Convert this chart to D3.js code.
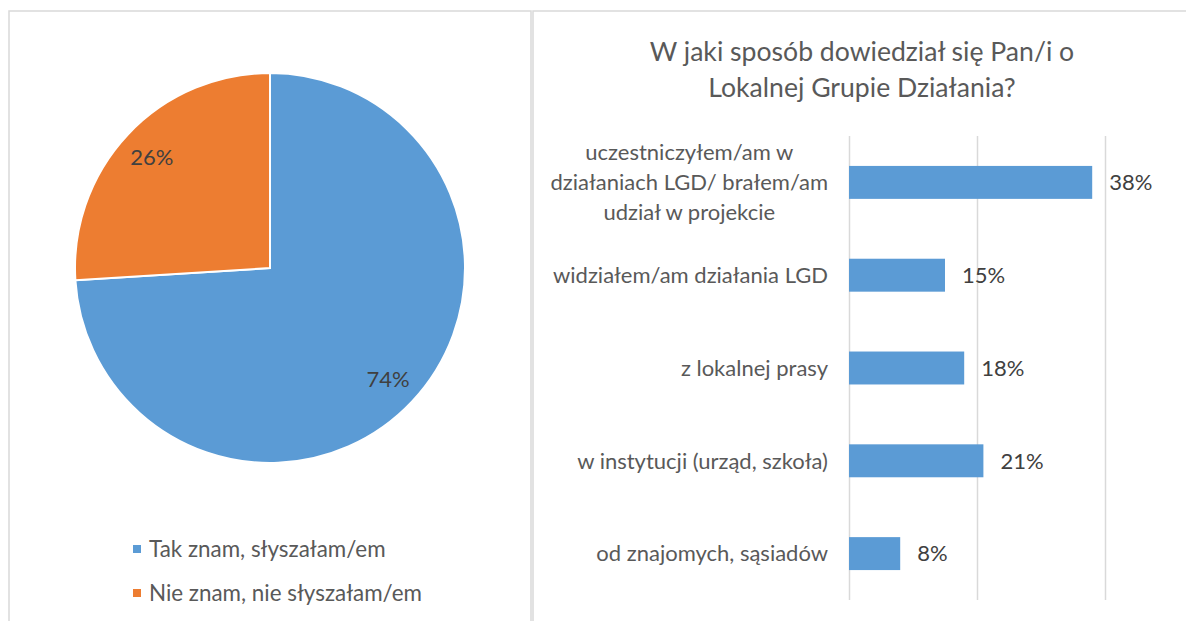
<!DOCTYPE html>
<head>
<meta charset="utf-8">
<style>
body { margin: 0; background: #fff; }
text { font-family: Lato, "Open Sans", sans-serif; }
.grid line { stroke: #d9d9d9; stroke-width: 1.5px; }
</style>
</head>
<body>
<script src="https://d3js.org/d3.v7.min.js"></script>
<script>

// pie data
var pieLabels = ["Tak znam, słyszałam/em", "Nie znam, nie słyszałam/em"];
var pieValues = [0.74, 0.26];
var pieColors = ["#5b9bd5", "#ed7d31"];

// bar data
var barTitle = ["W jaki sposób dowiedział się Pan/i o", "Lokalnej Grupie Działania?"];
var categories = [
  "uczestniczyłem/am w\ndziałaniach LGD/ brałem/am\nudział w projekcie",
  "widziałem/am działania LGD",
  "z lokalnej prasy",
  "w instytucji (urząd, szkoła)",
  "od znajomych, sąsiadów"
];
var barValues = [0.38, 0.15, 0.18, 0.21, 0.08];
var gridTicks = [0, 0.2, 0.4];

var W = 1186, H = 621;

var svg = d3.select("body").append("svg")
    .attr("width", W)
    .attr("height", H);

// panel frames
svg.append("rect").attr("x", 9).attr("y", 11).attr("width", 522).attr("height", 640)
    .style("fill", "none").style("stroke", "#d9d9d9").style("stroke-width", "1.5px");
svg.append("rect").attr("x", 533).attr("y", 11).attr("width", 680).attr("height", 640)
    .style("fill", "none").style("stroke", "#d9d9d9").style("stroke-width", "1.5px");

// ---- pie ----
var cx = 270, cy = 268, r = 195;
var pie = d3.pie().sort(null);
var arc = d3.arc().innerRadius(0).outerRadius(r);
var labelArc = d3.arc().innerRadius(162).outerRadius(162);

var gp = svg.append("g").attr("transform", "translate(" + cx + "," + cy + ")");
var slices = pie(pieValues);

gp.selectAll("path")
    .data(slices)
  .enter().append("path")
    .attr("d", arc)
    .style("fill", function(d, i) { return pieColors[i]; })
    .style("stroke", "#fff")
    .style("stroke-width", "2px");

gp.selectAll("text")
    .data(slices)
  .enter().append("text")
    .attr("transform", function(d) { return "translate(" + labelArc.centroid(d) + ")"; })
    .attr("text-anchor", "middle")
    .attr("dy", "0.35em")
    .style("font-size", "22px")
    .style("fill", "#404040")
    .text(function(d) { return Math.round(d.value * 100) + "%"; });

// legend
var leg = svg.append("g").selectAll("g")
    .data(pieLabels)
  .enter().append("g")
    .attr("transform", function(d, i) { return "translate(133," + (549 + i * 44) + ")"; });
leg.append("rect")
    .attr("x", 0).attr("y", -4).attr("width", 8).attr("height", 8)
    .style("fill", function(d, i) { return pieColors[i]; });
leg.append("text")
    .attr("x", 16).attr("dy", "0.35em")
    .style("font-size", "22.4px")
    .style("fill", "#595959")
    .text(function(d) { return d; });

// ---- bars ----
var x = d3.scaleLinear().domain([0, 0.4]).range([849, 1105]);
var y = d3.scaleBand().domain(categories).range([136, 600])
    .paddingInner(0.645).paddingOuter(0.3225);

svg.append("g").selectAll("text")
    .data(barTitle)
  .enter().append("text")
    .attr("x", 862)
    .attr("y", function(d, i) { return 52 + i * 36; })
    .attr("dy", "0.35em")
    .attr("text-anchor", "middle")
    .style("font-size", "26.6px")
    .style("fill", "#595959")
    .text(function(d) { return d; });

svg.append("g")
    .attr("class", "grid")
    .attr("transform", "translate(0,600)")
    .call(d3.axisBottom(x).tickValues(gridTicks).tickSize(-464).tickFormat(""))
    .call(function(g) { g.select(".domain").remove(); });

svg.append("g").selectAll("rect")
    .data(barValues)
  .enter().append("rect")
    .attr("x", x(0))
    .attr("y", function(d, i) { return y(categories[i]); })
    .attr("width", function(d) { return x(d) - x(0); })
    .attr("height", y.bandwidth())
    .style("fill", "#5b9bd5");

svg.append("g").selectAll("text")
    .data(barValues)
  .enter().append("text")
    .attr("x", function(d) { return x(d) + 17; })
    .attr("y", function(d, i) { return y(categories[i]) + y.bandwidth() / 2; })
    .attr("dy", "0.35em")
    .style("font-size", "22px")
    .style("fill", "#404040")
    .text(function(d) { return Math.round(d * 100) + "%"; });

// category labels, wrapped ones are centred on their widest line
var labelRight = 828, lineH = 30;
var cat = svg.append("g").selectAll("text")
    .data(categories)
  .enter().append("text")
    .attr("y", function(d) { return y(d) + y.bandwidth() / 2; })
    .style("font-size", "22px")
    .style("fill", "#595959");

cat.each(function(d) {
  var t = d3.select(this), lines = d.split("\n");
  lines.forEach(function(l, j) {
    t.append("tspan")
      .attr("dy", j === 0 ? "0.35em" : lineH + "px")
      .text(l);
  });
  var maxW = 0;
  t.selectAll("tspan").each(function() { maxW = Math.max(maxW, this.getComputedTextLength()); });
  var mid = labelRight - maxW / 2;
  t.attr("text-anchor", "middle");
  t.selectAll("tspan").attr("x", mid);
  t.attr("transform", "translate(0," + (-(lines.length - 1) * lineH / 2) + ")");
});

</script>
</body>
